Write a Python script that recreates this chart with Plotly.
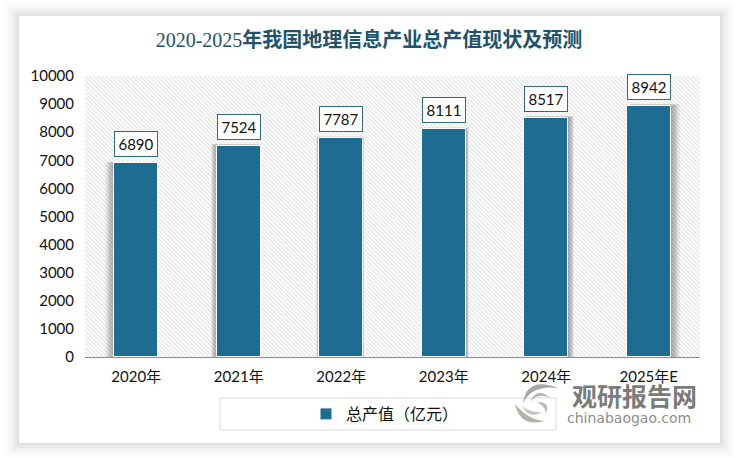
import plotly.graph_objects as go

categories = ['2020年', '2021年', '2022年', '2023年', '2024年', '2025年E']
values = [6890, 7524, 7787, 8111, 8517, 8942]
axis_top = [10000, 10000, 10000, 10000, 10000, 10000]
y_ticks = [0, 1000, 2000, 3000, 4000, 5000, 6000, 7000, 8000, 9000, 10000]

series_name = '总产值（亿元）'
title_years = '2020-2025'
title_rest = '年我国地理信息产业总产值现状及预测'

BAR_COLOR = '#1d6c92'
TEXT_FONT = 'Lato, Noto Sans CJK SC'
W, H = 738, 458
L, R, T, B = 85, 700, 76, 357
BAR_W = 0.43
CAT_PX = (R - L) / 6


def px(x):
    return (x - L) / (R - L)


def py(y):
    return (B - y) / (B - T)


def rect(x0, y0, x1, y1, **kw):
    return dict(type='rect', xref='paper', yref='paper', x0=px(x0), x1=px(x1), y0=py(y0), y1=py(y1), **kw)


def crescent(a, c1, b, c2, color):
    d = (f'M {px(a[0])} {py(a[1])} Q {px(c1[0])} {py(c1[1])} {px(b[0])} {py(b[1])} '
         f'Q {px(c2[0])} {py(c2[1])} {px(a[0])} {py(a[1])} Z')
    return dict(type='path', xref='paper', yref='paper', path=d, fillcolor=color,
                line=dict(width=0), layer='above')


fig = go.Figure()

# hatched plot background
fig.add_trace(go.Bar(
    x=categories, y=axis_top, width=1, showlegend=False, hoverinfo='skip',
    marker=dict(color='white', line=dict(width=0),
                pattern=dict(shape='\\', fgcolor='#bdbdbd', bgcolor='white', size=3, solidity=0.35)),
))

# soft perspective shadow behind the bars, outer layers first
for k in range(7, 0, -1):
    grow = 0.5 * k / CAT_PX
    shift = [1.0 * k * (i - 2.5) / 2.5 / CAT_PX for i in range(len(values))]
    fig.add_trace(go.Bar(
        x=categories, y=[v + 9 * k for v in values], showlegend=False, hoverinfo='skip',
        width=BAR_W + grow,
        offset=[s - (BAR_W + grow) / 2 for s in shift],
        marker=dict(color='rgba(40,40,40,0.065)', line=dict(width=0)),
    ))

fig.add_trace(go.Bar(
    x=categories, y=values, name=series_name, width=BAR_W,
    marker=dict(color=BAR_COLOR, line=dict(color='white', width=1)),
))

for cat, val in zip(categories, values):
    fig.add_annotation(
        x=cat, y=val, yshift=19, yanchor='middle', text=str(val), showarrow=False,
        width=40, height=22, borderpad=1, borderwidth=1, bordercolor='#2f6b7e', bgcolor='white',
        font=dict(family=TEXT_FONT, size=15, color='#111111'),
    )

# watermark
fig.add_annotation(xref='paper', yref='paper', x=px(570), y=py(395), xanchor='left', yanchor='middle',
                   text='<b>观研报告网</b>', showarrow=False,
                   font=dict(family='Noto Sans CJK SC', size=25, weight=900, color='rgba(105,105,105,0.9)'))
fig.add_annotation(xref='paper', yref='paper', x=px(565), y=py(418), xanchor='left', yanchor='middle',
                   text='chinabaogao.com', showarrow=False,
                   font=dict(family='DejaVu Sans', size=14, color='rgba(125,125,125,0.9)'))

shapes = []
# card shadow, widest first
for grow, alpha in [(14, 0.012), (11, 0.018), (8, 0.025), (5, 0.03), (2, 0.035)]:
    shapes.append(rect(19 - grow, 16 - grow, 720 + grow, 443 + grow, layer='below',
                       fillcolor=f'rgba(0,0,0,{alpha})', line=dict(width=0)))
shapes.append(rect(19, 16, 720, 443, layer='below', fillcolor='white', line=dict(width=0)))
# legend frame
shapes.append(rect(220, 398, 556, 430, layer='below', fillcolor='white', line=dict(color='#d9d9d9', width=1)))
# watermark swirl
shapes += [
    crescent((523, 403), (527, 376), (558, 388), (532, 385), 'rgba(150,150,150,0.85)'),
    crescent((530, 402), (537, 386), (550, 398), (538, 392), 'rgba(170,170,170,0.85)'),
    crescent((515, 404), (520, 428), (545, 421), (528, 420), 'rgba(165,165,160,0.85)'),
    crescent((522, 406), (530, 420), (542, 412), (530, 413), 'rgba(185,185,180,0.85)'),
    crescent((537, 402), (552, 402), (545, 415), (548, 408), 'rgba(170,170,170,0.85)'),
]

fig.update_layout(
    width=W, height=H, autosize=False,
    margin=dict(l=L, r=W - R, t=T, b=H - B, pad=0),
    barmode='overlay',
    bargap=0,
    paper_bgcolor='white',
    plot_bgcolor='rgba(0,0,0,0)',
    font=dict(family=TEXT_FONT, size=15, color='#111111'),
    title=dict(text=f'{title_years}<b>{title_rest}</b>', x=0.5, xanchor='center', y=1 - 40 / H, yanchor='middle',
               font=dict(family='Liberation Serif, Noto Sans CJK SC', size=20, color='#20536b')),
    xaxis=dict(type='category', categoryorder='array', categoryarray=categories, range=[-0.5, 5.5],
               showgrid=False, showline=True, linecolor='#8c8c8c', linewidth=1, ticks='', ticklen=0,
               ticklabelstandoff=6),
    yaxis=dict(range=[0, 10000], tickvals=y_ticks, tickformat='d', showgrid=False, zeroline=False,
               showline=False, ticks='', ticklabelstandoff=10),
    legend=dict(orientation='h', xref='paper', yref='paper', x=px(385), xanchor='center', y=py(414), yanchor='middle',
                bgcolor='rgba(0,0,0,0)', font=dict(family=TEXT_FONT, size=16)),
    shapes=shapes,
)

fig.write_html('out.html', config={'displayModeBar': False}, post_script="document.body.style.margin='0';")
